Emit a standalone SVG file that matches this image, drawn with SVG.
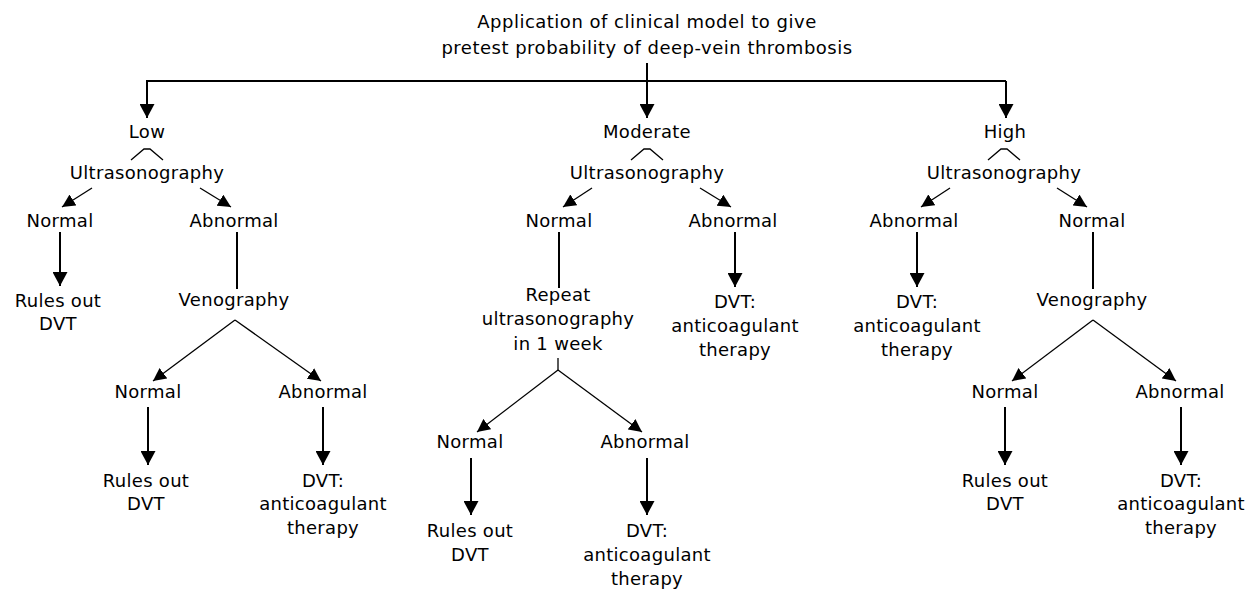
<svg xmlns="http://www.w3.org/2000/svg" width="1253" height="590" viewBox="0 0 1253 590">
<defs>
<style>
text{font-family:"DejaVu Sans","Liberation Sans",sans-serif;font-size:18px;fill:#000;text-anchor:middle;letter-spacing:0.3px}
.title{letter-spacing:0.5px}
.c{fill:none;stroke:#000;stroke-width:2}
.d{fill:none;stroke:#000;stroke-width:1.3}
.a{marker-end:url(#ah)}
.s{marker-end:url(#sh)}
</style>
<marker id="ah" markerUnits="userSpaceOnUse" viewBox="0 0 14 15" markerWidth="14" markerHeight="15" refX="14" refY="7.5" orient="auto"><path d="M0,0 L14,7.5 L0,15 Z" fill="#000"/></marker>
<marker id="sh" markerUnits="userSpaceOnUse" viewBox="0 0 13 13" markerWidth="13" markerHeight="13" refX="13" refY="6.5" orient="auto"><path d="M0,0 L13,6.5 L0,13 Z" fill="#000"/></marker>
</defs>
<rect width="1253" height="590" fill="#fff"/>
<g id="connectors">
<path class="c" d="M647,63 V81"/>
<path class="c" d="M146,81 H1006"/>
<path class="c a" d="M147,81 V118"/>
<path class="c a" d="M647,81 V118"/>
<path class="c a" d="M1006,81 V118"/>
<polyline class="d" points="131,160 144,149 150,149 163,160"/>
<polyline class="d" points="631,160 644,149 650,149 663,160"/>
<polyline class="d" points="988,160 1001,149 1007,149 1020,160"/>
<path class="d s" d="M92,188 L62,207"/>
<path class="d s" d="M200,188 L231,207"/>
<path class="d s" d="M592,188 L563,207"/>
<path class="d s" d="M700,188 L731,207"/>
<path class="d s" d="M950,188 L921,207"/>
<path class="d s" d="M1057,188 L1087,207"/>
<path class="c a" d="M60,232 V286"/>
<path class="c" d="M237,232 V289"/>
<path class="c" d="M559,232 V288"/>
<path class="c a" d="M735,232 V287"/>
<path class="c a" d="M917,232 V287"/>
<path class="c" d="M1093,232 V289"/>
<path class="d s" d="M235,320 L153,381"/>
<path class="d s" d="M235,320 L321,381"/>
<path class="d s" d="M1093,320 L1012,381"/>
<path class="d s" d="M1093,320 L1176,381"/>
<path class="d" d="M558,358 V370"/>
<path class="d s" d="M558,370 L477,432"/>
<path class="d s" d="M558,370 L642,432"/>
<path class="c a" d="M148,407 V465"/>
<path class="c a" d="M323,407 V465"/>
<path class="c a" d="M1005,407 V465"/>
<path class="c a" d="M1181,407 V465"/>
<path class="c a" d="M471,458 V515"/>
<path class="c a" d="M647,458 V515"/>
</g>
<g id="title"><text class="title" x="647" y="28">Application of clinical model to give</text><text class="title" x="647" y="54">pretest probability of deep-vein thrombosis</text></g>
<g id="low"><text x="147" y="138">Low</text></g>
<g id="low-us"><text x="147" y="179">Ultrasonography</text></g>
<g id="low-normal"><text x="60" y="227">Normal</text></g>
<g id="low-abnormal"><text x="234" y="227">Abnormal</text></g>
<g id="low-rules"><text x="58" y="307">Rules out</text><text x="58" y="330">DVT</text></g>
<g id="low-veno"><text x="234" y="306">Venography</text></g>
<g id="low-v-normal"><text x="148" y="398">Normal</text></g>
<g id="low-v-abnormal"><text x="323" y="398">Abnormal</text></g>
<g id="low-v-rules"><text x="146" y="487">Rules out</text><text x="146" y="510">DVT</text></g>
<g id="low-v-dvt"><text x="323" y="487">DVT:</text><text x="323" y="510">anticoagulant</text><text x="323" y="534">therapy</text></g>
<g id="mod"><text x="647" y="138">Moderate</text></g>
<g id="mod-us"><text x="647" y="179">Ultrasonography</text></g>
<g id="mod-normal"><text x="559" y="227">Normal</text></g>
<g id="mod-abnormal"><text x="733" y="227">Abnormal</text></g>
<g id="mod-repeat"><text x="558" y="301">Repeat</text><text x="558" y="325">ultrasonography</text><text x="558" y="350">in 1 week</text></g>
<g id="mod-dvt"><text x="735" y="308">DVT:</text><text x="735" y="332">anticoagulant</text><text x="735" y="356">therapy</text></g>
<g id="mod-r-normal"><text x="470" y="448">Normal</text></g>
<g id="mod-r-abnormal"><text x="645" y="448">Abnormal</text></g>
<g id="mod-r-rules"><text x="470" y="537">Rules out</text><text x="470" y="561">DVT</text></g>
<g id="mod-r-dvt"><text x="647" y="537">DVT:</text><text x="647" y="561">anticoagulant</text><text x="647" y="585">therapy</text></g>
<g id="high"><text x="1005" y="138">High</text></g>
<g id="high-us"><text x="1004" y="179">Ultrasonography</text></g>
<g id="high-abnormal"><text x="914" y="227">Abnormal</text></g>
<g id="high-normal"><text x="1092" y="227">Normal</text></g>
<g id="high-dvt"><text x="917" y="308">DVT:</text><text x="917" y="332">anticoagulant</text><text x="917" y="356">therapy</text></g>
<g id="high-veno"><text x="1092" y="306">Venography</text></g>
<g id="high-v-normal"><text x="1005" y="398">Normal</text></g>
<g id="high-v-abnormal"><text x="1180" y="398">Abnormal</text></g>
<g id="high-v-rules"><text x="1005" y="487">Rules out</text><text x="1005" y="510">DVT</text></g>
<g id="high-v-dvt"><text x="1181" y="487">DVT:</text><text x="1181" y="510">anticoagulant</text><text x="1181" y="534">therapy</text></g>
</svg>
